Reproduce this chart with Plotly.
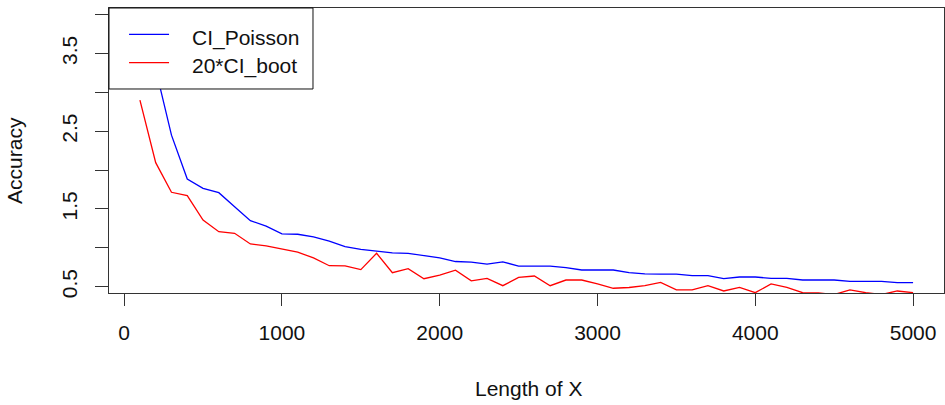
import plotly.graph_objects as go

length_x = [100, 200, 300, 400, 500, 600, 700, 800, 900, 1000,
            1100, 1200, 1300, 1400, 1500, 1600, 1700, 1800, 1900, 2000,
            2100, 2200, 2300, 2400, 2500, 2600, 2700, 2800, 2900, 3000,
            3100, 3200, 3300, 3400, 3500, 3600, 3700, 3800, 3900, 4000,
            4100, 4200, 4300, 4400, 4500, 4600, 4700, 4800, 4900, 5000]

ci_poisson = [4.70, 3.30, 2.45, 1.886, 1.766, 1.71, 1.53, 1.35, 1.28, 1.18,
              1.175, 1.14, 1.085, 1.015, 0.98, 0.962, 0.935, 0.93, 0.897, 0.87,
              0.824, 0.815, 0.79, 0.82, 0.766, 0.766, 0.766, 0.745, 0.715, 0.715,
              0.715, 0.68, 0.666, 0.663, 0.663, 0.642, 0.642, 0.603, 0.625, 0.625,
              0.607, 0.607, 0.586, 0.586, 0.586, 0.569, 0.569, 0.569, 0.552, 0.552]

ci_boot20 = [2.90, 2.096, 1.715, 1.671, 1.358, 1.208, 1.187, 1.05, 1.024, 0.983,
             0.945, 0.87, 0.77, 0.768, 0.72, 0.93, 0.68, 0.732, 0.603, 0.65,
             0.712, 0.575, 0.607, 0.513, 0.62, 0.638, 0.513, 0.586, 0.586, 0.535,
             0.48, 0.49, 0.513, 0.555, 0.46, 0.458, 0.513, 0.445, 0.492, 0.423,
             0.535, 0.492, 0.423, 0.419, 0.40, 0.458, 0.423, 0.40, 0.445, 0.423]

x_ticks = [0, 1000, 2000, 3000, 4000, 5000]
y_ticks = [0.5, 1.0, 1.5, 2.0, 2.5, 3.0, 3.5, 4.0]
y_tick_labels = ["0.5", "", "1.5", "", "2.5", "", "3.5", ""]

series_names = ["CI_Poisson", "20*CI_boot"]
series_colors = ["#0000FF", "#FF0000"]

FONT = "Liberation Sans, Arial, sans-serif"
FS = 21
AX = "#333333"

fig = go.Figure()
fig.add_trace(go.Scatter(x=length_x, y=ci_poisson, mode="lines", name=series_names[0],
                         line=dict(color=series_colors[0], width=1.3), showlegend=False))
fig.add_trace(go.Scatter(x=length_x, y=ci_boot20, mode="lines", name=series_names[1],
                         line=dict(color=series_colors[1], width=1.3), showlegend=False))

fig.update_layout(
    width=945, height=405,
    margin=dict(l=109, r=1, t=8, b=112),
    paper_bgcolor="white", plot_bgcolor="white",
    font=dict(family=FONT, size=FS, color="#111111"),
    xaxis=dict(range=[-96, 5196], tickvals=x_ticks, ticktext=[str(v) for v in x_ticks],
               showgrid=False, zeroline=False, showline=True, mirror=True,
               linecolor=AX, linewidth=1, ticks="outside", ticklen=12, tickwidth=1,
               tickcolor=AX, ticklabelstandoff=9),
    yaxis=dict(range=[0.419, 4.086], tickvals=y_ticks, ticktext=y_tick_labels,
               tickangle=-90, showgrid=False, zeroline=False, showline=True, mirror=True,
               linecolor=AX, linewidth=1, ticks="outside", ticklen=13, tickwidth=1,
               tickcolor=AX, ticklabelstandoff=10),
)

# axis titles
fig.add_annotation(text="Length of X", xref="paper", yref="paper", x=0.5018, y=-0.3368,
                   xanchor="center", yanchor="middle", showarrow=False,
                   font=dict(family=FONT, size=FS, color="#111111"))
fig.add_annotation(text="Accuracy", xref="paper", yref="paper", x=-0.1126, y=0.4667,
                   xanchor="center", yanchor="middle", textangle=-90, showarrow=False,
                   font=dict(family=FONT, size=FS, color="#111111"))

# legend box (drawn above the lines, like R's legend)
fig.add_shape(type="rect", xref="paper", yref="paper", x0=0, x1=0.2443, y0=0.7158, y1=1,
              fillcolor="white", line=dict(color="#111111", width=1), layer="above")
legend_rows_y = [0.9077, 0.808]
for name, color, ly in zip(series_names, series_colors, legend_rows_y):
    fig.add_shape(type="line", xref="paper", yref="paper", x0=0.024, x1=0.0719, y0=ly, y1=ly,
                  line=dict(color=color, width=1.3), layer="above")
    fig.add_annotation(text=name, xref="paper", yref="paper", x=0.097, y=ly - 0.012,
                       xanchor="left", yanchor="middle", showarrow=False,
                       font=dict(family=FONT, size=FS, color="#111111"))

fig.write_html("out.html")
